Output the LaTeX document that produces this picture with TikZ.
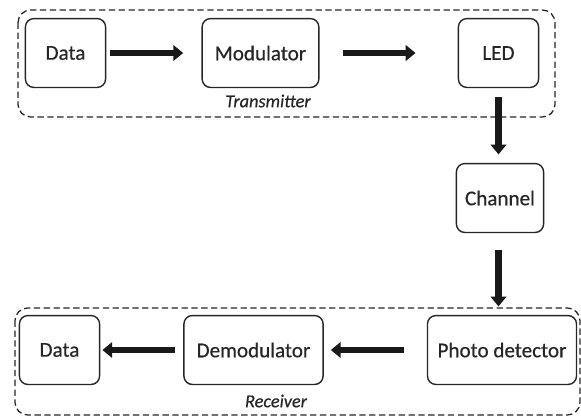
\documentclass[tikz,border=0pt]{standalone}
\usepackage{fontspec}
\setmainfont{Carlito}
\newfontfamily\boxfont[FakeBold=0.5]{Carlito}
\usetikzlibrary{arrows.meta, positioning}
\usepackage{xcolor}

\begin{document}
\begin{tikzpicture}[
x=0.025cm, y=-0.025cm,
box/.style={draw=black!85,
line width=1pt,
rectangle,
rounded corners=6pt,
minimum height=49pt,
align=center,
text=black!85,
font=\boxfont\fontsize{15}{18}\selectfont},
group/.style={draw=black!85,
line width=0.9pt,
dash pattern=on 4.5pt off 2.5pt,
rounded corners=9pt},
tag/.style={text=black!85, font=\boxfont\fontsize{13}{15}\selectfont\itshape},
arrow/.style={-{Triangle[length=7pt, width=11pt]}, line width=4.3pt, black!90}
]

\useasboundingbox (0,0) rectangle (581,417);

% transmitter side
\draw[group] (18,10) rectangle (555,117);
\node[box, minimum width=57pt] (data) at (65.5,53) {Data};
\node[box, minimum width=83pt] (mod) at (260.5,53) {Modulator};
\node[box, minimum width=57pt] (led) at (498.5,53) {LED};
\node[tag] (tx) at (268,101) {Transmitter};

% channel
\node[box, minimum width=62pt] (chan) at (500,198) {Channel};

% receiver side
\draw[group] (15,308) rectangle (580,415);
\node[box, minimum width=106pt] (photo) at (502,350) {Photo detector};
\node[box, minimum width=99pt] (demod) at (253.5,350) {Demodulator};
\node[box, minimum width=57pt] (data2) at (59.5,350) {Data};
\node[tag] (rx) at (276,401) {Receiver};

\draw[arrow, shorten <=3pt, shorten >=13pt] (data) -- (mod);
\draw[arrow, shorten <=17pt, shorten >=30pt] (mod) -- (led);
\draw[arrow, shorten <=6pt, shorten >=6pt] (led) -- (led |- chan.north);
\draw[arrow, shorten <=12pt, shorten >=6pt] (chan.south -| led) -- (led |- photo.north);
\draw[arrow, shorten <=16pt, shorten >=5pt] (photo) -- (demod);
\draw[arrow, shorten <=6pt, shorten >=1.5pt] (demod) -- (data2);

\end{tikzpicture}
\end{document}
